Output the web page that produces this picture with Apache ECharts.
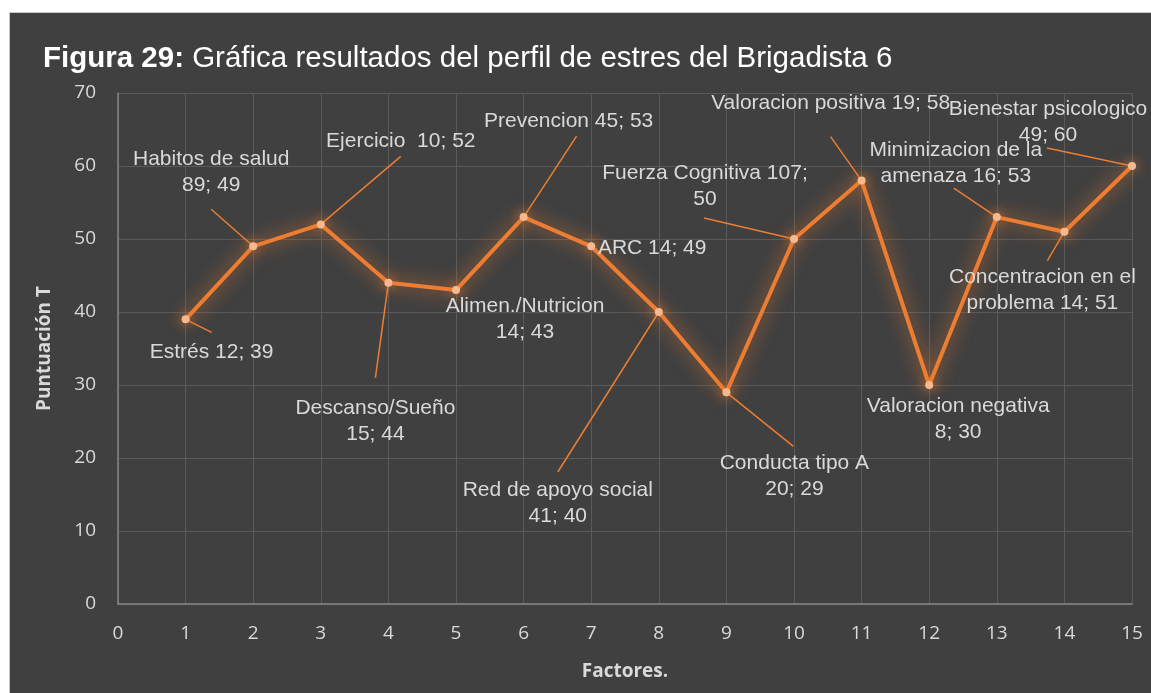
<!DOCTYPE html>
<html>
<head>
<meta charset="utf-8">
<script src="https://cdn.jsdelivr.net/npm/echarts@6/dist/echarts.min.js"></script>
<style>
  html, body { margin: 0; padding: 0; background: #ffffff; }
  #frame {
    position: absolute; left: 9px; top: 12px;
    border-left: 1px solid #c8c8c8; border-top: 1px solid #c8c8c8;
  }
  #chart { width: 1142px; height: 681px; }
</style>
</head>
<body>
<div id="frame"><div id="chart"></div></div>
<script>
// datos del perfil de estres (Brigadista 6)
const factorIndex = [1, 2, 3, 4, 5, 6, 7, 8, 9, 10, 11, 12, 13, 14, 15]
const factorNames = [
  'Estrés', 'Habitos de salud', 'Ejercicio ', 'Descanso/Sueño', 'Alimen./Nutricion',
  'Prevencion', 'ARC', 'Red de apoyo social', 'Conducta tipo A', 'Fuerza Cognitiva',
  'Valoracion positiva', 'Valoracion negativa', 'Minimizacion de la amenaza',
  'Concentracion en el problema', 'Bienestar psicologico'
]
const rawScores = [12, 89, 10, 15, 14, 45, 14, 41, 20, 107, 19, 8, 16, 14, 49]
const tScores = [39, 49, 52, 44, 43, 53, 49, 40, 29, 50, 58, 30, 53, 51, 60]

// texto de las etiquetas tal como aparecen (saltos de linea)
const labelTexts = [
  'Estrés 12; 39',
  'Habitos de salud\n89; 49',
  'Ejercicio  10; 52',
  'Descanso/Sueño\n15; 44',
  'Alimen./Nutricion\n14; 43',
  'Prevencion 45; 53',
  'ARC 14; 49',
  'Red de apoyo social\n41; 40',
  'Conducta tipo A\n20; 29',
  'Fuerza Cognitiva 107;\n50',
  'Valoracion positiva 19; 58',
  'Valoracion negativa\n8; 30',
  'Minimizacion de la\namenaza 16; 53',
  'Concentracion en el\nproblema 14; 51',
  'Bienestar psicologico\n49; 60'
]

// desplazamiento de cada etiqueta respecto al punto (px)
const labelOffsets = [
  [26, 33], [-42, -74], [80, -83], [-13, 138], [69, 29],
  [45, -96], [61, 2], [-101, 191], [68, 84], [-89, -53],
  [-31, -77], [29, 34], [-41, -54], [-22, 59], [-84, -44]
]
// extremo de la linea guia respecto al punto (px), null = sin linea
const leaderEnds = [
  [26, 13], [-42, -37], [80, -68], [-13, 95], null,
  [53, -81], null, [-101, 160], [67, 54], [-90, -21],
  [-31, -44], null, [-43, -29], [-17, 29], [-85, -18]
]

const orange = '#ed7d31'
const chart = echarts.init(document.getElementById('chart'))

const points = factorIndex.map((x, i) => [x, tScores[i]])

const option = {
  backgroundColor: '#404040',
  animation: false,
  title: {
    text: '{b|Figura 29:} Gráfica resultados del perfil de estres del Brigadista 6',
    left: 33,
    top: 30,
    padding: 0,
    textStyle: {
      color: '#ffffff',
      fontFamily: 'Liberation Sans',
      fontSize: 29.5,
      fontWeight: 'normal',
      lineHeight: 32,
      rich: {
        b: { color: '#ffffff', fontFamily: 'Liberation Sans', fontSize: 29.5, fontWeight: 'bold', lineHeight: 32 }
      }
    }
  },
  grid: { left: 108, top: 80, right: 20, bottom: 90 },
  xAxis: {
    type: 'value',
    min: 0,
    max: 15,
    interval: 1,
    name: 'Factores.',
    nameLocation: 'middle',
    nameGap: 58,
    nameTextStyle: { color: '#d9d9d9', fontFamily: 'Open Sans', fontSize: 19, fontWeight: 'bold' },
    axisLine: { lineStyle: { color: '#858585', width: 1.5 } },
    axisTick: { show: false },
    axisLabel: { color: '#d9d9d9', fontFamily: 'Open Sans', fontSize: 19, margin: 20 },
    splitLine: { show: true, lineStyle: { color: '#5a5a5a', width: 1 } }
  },
  yAxis: {
    type: 'value',
    min: 0,
    max: 70,
    interval: 10,
    name: 'Puntuación T',
    nameLocation: 'middle',
    nameGap: 64,
    nameTextStyle: { color: '#d9d9d9', fontFamily: 'Open Sans', fontSize: 19, fontWeight: 'bold' },
    axisLine: { show: true, lineStyle: { color: '#858585', width: 1.5 } },
    axisTick: { show: false },
    axisLabel: { color: '#d9d9d9', fontFamily: 'Open Sans', fontSize: 19, margin: 22 },
    splitLine: { show: true, lineStyle: { color: '#5a5a5a', width: 1 } }
  },
  series: [
    {
      // lineas guia de las etiquetas
      type: 'custom',
      data: points,
      silent: true,
      z: 1,
      renderItem: function (params, api) {
        const end = leaderEnds[params.dataIndex]
        if (!end) return null
        const p = api.coord([api.value(0), api.value(1)])
        return {
          type: 'line',
          shape: { x1: p[0], y1: p[1], x2: p[0] + end[0], y2: p[1] + end[1] },
          style: { stroke: orange, lineWidth: 1.5 }
        }
      }
    },
    {
      type: 'line',
      data: points,
      z: 2,
      symbol: 'circle',
      symbolSize: 8,
      lineStyle: {
        color: orange,
        width: 4,
        shadowBlur: 18,
        shadowColor: 'rgba(237,125,49,0.95)'
      },
      itemStyle: {
        color: '#f6b98f',
        shadowBlur: 12,
        shadowColor: 'rgba(237,125,49,1)'
      },
      label: {
        show: true,
        position: 'inside',
        formatter: p => labelTexts[p.dataIndex],
        color: '#d9d9d9',
        fontFamily: 'Liberation Sans',
        fontSize: 21,
        lineHeight: 26,
        align: 'center',
        verticalAlign: 'middle'
      },
      labelLayout: function (params) {
        const o = labelOffsets[params.dataIndex]
        return { dx: o[0], dy: o[1] }
      }
    }
  ]
}

chart.setOption(option)
</script>
</body>
</html>
